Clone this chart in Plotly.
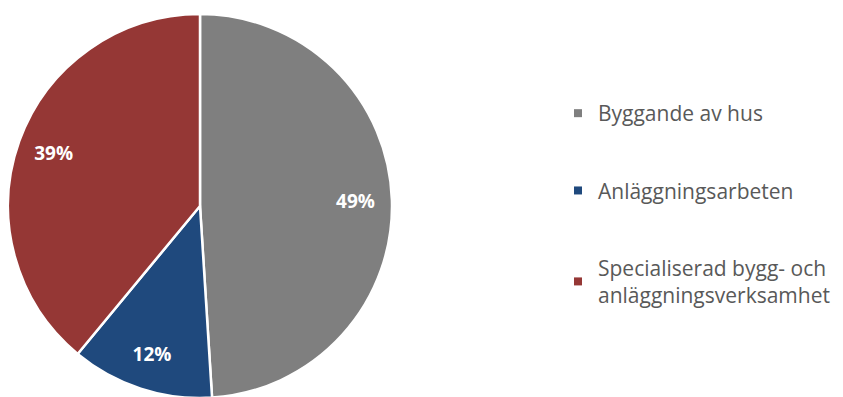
import plotly.graph_objects as go

labels = ["Byggande av hus", "Anläggningsarbeten", "Specialiserad bygg- och<br>anläggningsverksamhet"]
values = [49, 12, 39]
colors = ["#7f7f7f", "#1f497d", "#953735"]

pie_domain = dict(x=[0, 384/843], y=[0.0176, 0.985])

fig = go.Figure()
# filled pie slices
fig.add_trace(go.Pie(
    labels=labels,
    values=values,
    sort=False,
    direction="clockwise",
    rotation=0,
    marker=dict(colors=colors, line=dict(color="white", width=2.5)),
    textinfo="none",
    showlegend=False,
    hoverinfo="label+percent",
    domain=pie_domain,
))
# transparent ring carrying the percentage labels near the outer edge
fig.add_trace(go.Pie(
    labels=labels,
    values=values,
    sort=False,
    direction="clockwise",
    rotation=0,
    hole=0.62,
    marker=dict(colors=["rgba(0,0,0,0)"] * len(values), line=dict(width=0)),
    texttemplate="%{percent:.0%}",
    textposition="inside",
    insidetextorientation="horizontal",
    textfont=dict(family="Open Sans", size=19, color="white", weight="bold"),
    showlegend=False,
    hoverinfo="skip",
    domain=pie_domain,
))

for lab, col in zip(labels, colors):
    fig.add_trace(go.Scatter(
        x=[None], y=[None], mode="markers", name=lab,
        marker=dict(symbol="square", size=8, color=col),
        legendgroup=lab,
    ))

fig.update_layout(
    width=843, height=397,
    margin=dict(l=0, r=0, t=0, b=0),
    paper_bgcolor="white", plot_bgcolor="white",
    xaxis=dict(visible=False), yaxis=dict(visible=False),
    legend=dict(
        x=0.6524, y=0.505, xanchor="left", yanchor="middle",
        font=dict(family="Open Sans", size=21, color="#595959"),
        tracegroupgap=47, itemclick=False,
        bgcolor="rgba(0,0,0,0)",
    ),
)

fig.write_html("out.html")
